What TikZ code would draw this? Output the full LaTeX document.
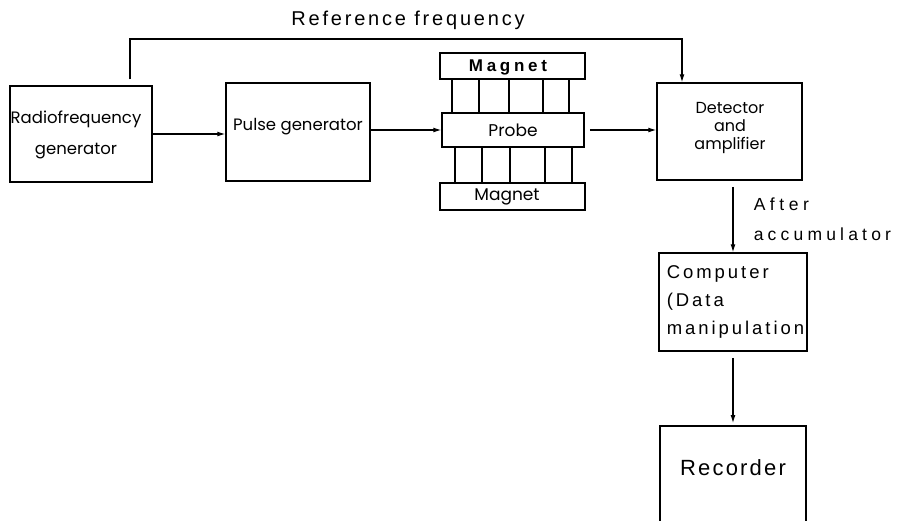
\documentclass[tikz,border=0pt]{standalone}
\usepackage{fontspec}
\setmainfont{Liberation Sans}
\newfontfamily\boxfont{Poppins}
\newfontfamily\spfont{Liberation Sans}
\usetikzlibrary{arrows.meta}
\begin{document}
\begin{tikzpicture}[x=1pt,y=-1pt,
  line width=1.5pt,
  box/.style={draw, rectangle, inner sep=0pt},
  arr/.style={line width=1.1pt, -{Latex[length=8pt,width=5pt]}},
  lbl/.style={inner sep=0pt, font=\boxfont\fontsize{16}{18}\selectfont, align=center},
  sp/.style={inner sep=0pt}
]
\useasboundingbox (0,0) rectangle (899,520);
\clip (0,0) rectangle (899,520);
% boxes
\node[box, minimum width=142pt, minimum height=96pt] (rf) at (81,134) {};
\node[box, minimum width=144pt, minimum height=98pt] (pulse) at (298,132) {};
\node[box, minimum width=145pt, minimum height=26pt] (mtop) at (512.5,66) {};
\node[box, minimum width=142pt, minimum height=34pt] (probe) at (513,130) {};
\node[box, minimum width=145pt, minimum height=27pt] (mbot) at (512.5,196.5) {};
\node[box, minimum width=145pt, minimum height=97pt] (det) at (729.5,131.5) {};
\node[box, minimum width=148pt, minimum height=98pt] (comp) at (733,302) {};
\draw (660,540) -- (660,426) -- (806,426) -- (806,540);
\coordinate (rec) at (733,426);
% magnet columns
\foreach \x in {452,479,509,543,569} \draw (\x,79) -- (\x,113);
\foreach \x in {455,482,510,545,572} \draw (\x,147) -- (\x,183);
% texts
\node[lbl, font=\boxfont\fontsize{16.5}{31}\selectfont] (trf) at (76,135) {Radiofrequency\\generator};
\node[lbl, font=\boxfont\fontsize{16.5}{18}\selectfont] (tpulse) at (298,127) {Pulse generator};
\node[sp, font=\spfont\bfseries\fontsize{17}{18}\selectfont\addfontfeature{LetterSpace=22}] (tmtop) at (508,67) {Magnet};
\node[lbl, font=\boxfont\fontsize{17}{18}\selectfont] (tprobe) at (513,130) {Probe};
\node[lbl, font=\boxfont\fontsize{17}{18}\selectfont] (tmbot) at (507,197) {Magnet};
\node[lbl, font=\boxfont\fontsize{16}{18}\selectfont] (tdet) at (730,128) {Detector\\and\\amplifier};
\node[sp, anchor=west, align=left, font=\spfont\fontsize{18.5}{28}\selectfont\addfontfeature{LetterSpace=16}] (tcomp) at (666,302) {Computer\\(Data\\manipulation};
\node[sp, font=\spfont\fontsize{22}{24}\selectfont\addfontfeature{LetterSpace=10}] (trec) at (733,468) {Recorder};
\node[sp, font=\spfont\fontsize{20}{22}\selectfont\addfontfeature{LetterSpace=14}] (tref) at (408,20) {Reference frequency};
\node[sp, anchor=west, font=\spfont\fontsize{17.5}{20}\selectfont\addfontfeature{LetterSpace=26}] (tafter) at (753,204) {After};
\node[sp, anchor=west, font=\spfont\fontsize{17.5}{20}\selectfont\addfontfeature{LetterSpace=24}] (tacc) at (753,234) {accumulator};
% connectors
\coordinate (rc1) at (130,39);
\coordinate (rc2) at (682,39);
\draw[arr, shorten <=6pt] (rf.north -| rc1) -- (rc1) -- (rc2) -- (det.north -| rc2);
\draw[arr] (rf.east) -- (pulse.west |- rf.east);
\draw[arr] (pulse.east |- probe.west) -- (probe.west);
\draw[arr, shorten <=5pt] (probe.east) -- (det.west |- probe.east);
\draw[arr, shorten <=6pt] (det.south -| comp.north) -- (comp.north);
\draw[arr, shorten <=6pt, shorten >=3pt] (comp.south) -- (rec);
\end{tikzpicture}
\end{document}
